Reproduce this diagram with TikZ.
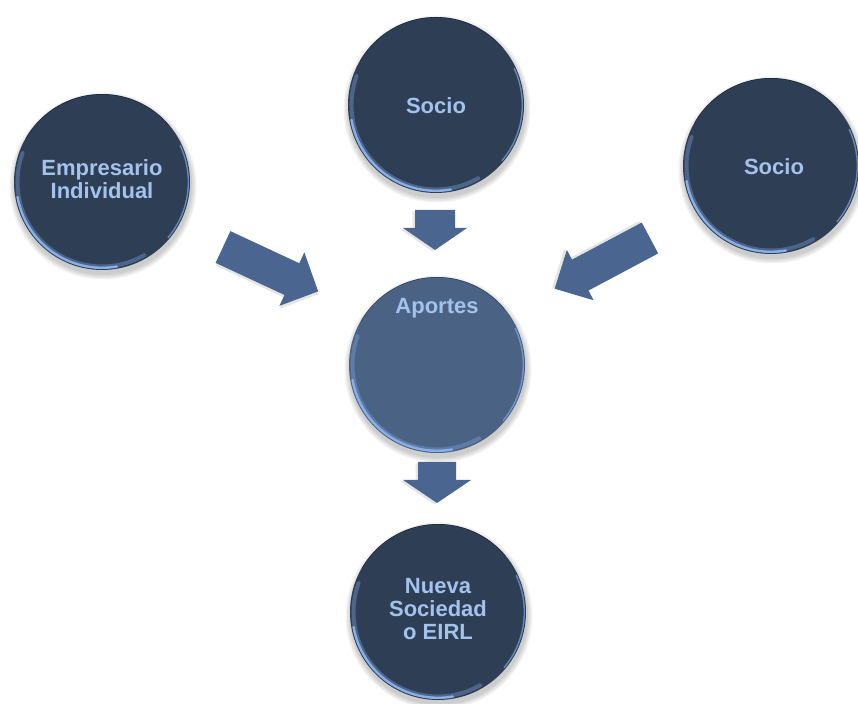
\documentclass[tikz,border=0pt]{standalone}
\usepackage{fontspec}
\setmainfont{Liberation Sans}
\usetikzlibrary{calc}

\definecolor{discdark}{HTML}{2E3E55}
\definecolor{disclight}{HTML}{4A6284}
\definecolor{arrowfill}{HTML}{4A6590}
\definecolor{labeltext}{HTML}{A3C2EC}
\definecolor{rimlight}{HTML}{88AFE8}

\tikzset{
  disc/.style={circle, minimum size=176pt, inner sep=0pt, fill=discdark},
  disclabel/.style={text=labeltext, font=\bfseries\fontsize{22}{23}\selectfont,
    align=center, inner sep=0pt},
  rim/.style={draw=rimlight, line cap=round},
  pics/barrow/.style args={#1/#2/#3/#4}{code={
    % tail centre at the origin, pointing along +x:
    % total length, shaft width, head width, head length
    \fill[black, opacity=0.10]
      (1.5,-2.5-#2/2) -- (#1-#4+1.5,-2.5-#2/2) -- (#1-#4+1.5,-2.5-#3/2)
      -- (#1+1.5,-2.5) -- (#1-#4+1.5,-2.5+#3/2) -- (#1-#4+1.5,-2.5+#2/2)
      -- (1.5,-2.5+#2/2) -- cycle;
    \fill[arrowfill]
      (0,-#2/2) -- (#1-#4,-#2/2) -- (#1-#4,-#3/2) -- (#1,0)
      -- (#1-#4,#3/2) -- (#1-#4,#2/2) -- (0,#2/2) -- cycle;
  }}
}

% soft shadow under a disc
\newcommand\discshadow[1]{%
  \foreach \r in {89,90.5,92,93.5}
    \fill[black, opacity=0.05] ($(#1)+(1,-4)$) circle[radius=\r];
}

% light bevel along the lower-left edge of a disc
\newcommand\discrim[1]{%
  \draw[rim, line width=4pt, opacity=0.35]
    ($(#1.center)+(160:84.5)$) arc[start angle=160, end angle=300, radius=84.5];
  \draw[rim, line width=2.4pt]
    ($(#1.center)+(190:85.8)$) arc[start angle=190, end angle=280, radius=85.8];
  \draw[rim, line width=1.4pt, opacity=0.65]
    ($(#1.center)+(-40:86.3)$) arc[start angle=-40, end angle=25, radius=86.3];
  \draw[black, line width=0.6pt, opacity=0.35]
    ($(#1.center)+(40:87.7)$) arc[start angle=40, end angle=150, radius=87.7];
}

\begin{document}
\begin{tikzpicture}[x=1pt, y=1pt]
  \useasboundingbox[fill=white] (0,0) rectangle (858,703);

  % shadows
  \discshadow{102,521}
  \discshadow{436,598}
  \discshadow{771,537}
  \discshadow{437,338}
  \discshadow{438,91}

  % discs
  \node[disc] (emp)   at (102,521) {};
  \node[disc] (socA)  at (436,598) {};
  \node[disc] (socB)  at (771,537) {};
  \node[disc, fill=disclight] (apo) at (437,338) {};
  \node[disc] (nueva) at (438,91) {};

  \discrim{emp}
  \discrim{socA}
  \discrim{socB}
  \discrim{apo}
  \discrim{nueva}

  % labels
  \node[disclabel] (tE)  at ($(emp.center)+(0,3)$) {Empresario\\Individual};
  \node[disclabel] (tS1) at ($(socA.center)+(0,-1)$) {Socio};
  \node[disclabel] (tS2) at ($(socB.center)+(3,-1)$) {Socio};
  \node[disclabel] (tA)  at ($(apo.center)+(0,57)$) {Aportes};
  \node[disclabel] (tN)  at ($(nueva.center)+(0,3)$) {Nueva\\Sociedad\\o EIRL};

  % block arrows
  \pic (arrE) at (223,456) [rotate=-25] {barrow=105/35/59/29};
  \pic (arrS) at (650,465) [rotate=208] {barrow=108/35/57/29};
  \pic (arrT) at (435,493) [rotate=-90] {barrow=40/40/64/22};
  \pic (arrB) at (437,241) [rotate=-90] {barrow=41/38/68/23};
\end{tikzpicture}
\end{document}
